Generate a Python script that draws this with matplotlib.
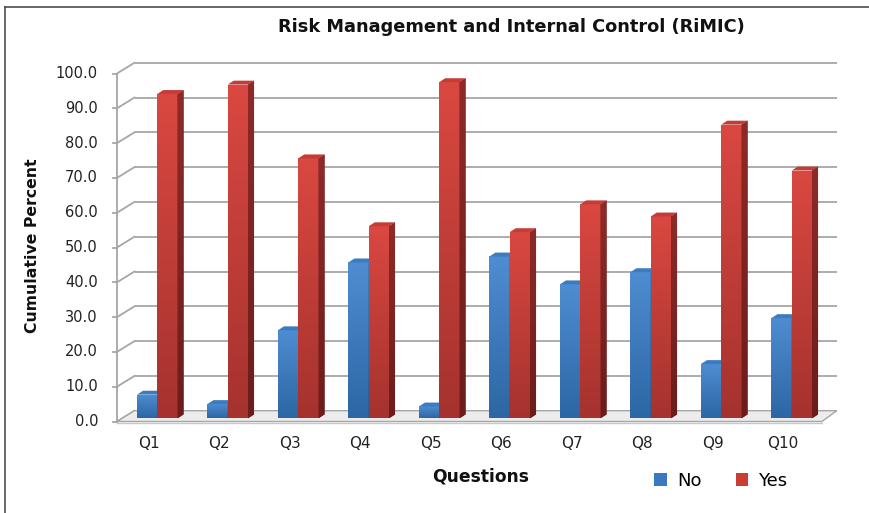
import numpy as np
import matplotlib
matplotlib.use("Agg")
import matplotlib.pyplot as plt
from matplotlib.patches import Polygon, Patch
from matplotlib.colors import LinearSegmentedColormap
from matplotlib.lines import Line2D

# ---- data -------------------------------------------------------------
questions = ["Q1", "Q2", "Q3", "Q4", "Q5", "Q6", "Q7", "Q8", "Q9", "Q10"]
no_pct = [6.8, 4.1, 25.3, 44.8, 3.4, 46.5, 38.5, 42.0, 15.6, 28.8]
yes_pct = [93.2, 95.9, 74.7, 55.2, 96.6, 53.5, 61.5, 58.0, 84.4, 71.2]
series_names = ["No", "Yes"]
y_ticks = np.arange(0, 101, 10)

# ---- figure / axes ----------------------------------------------------
W, H = 870, 513
fig = plt.figure(figsize=(W / 100, H / 100), dpi=100)
fig.patch.set_facecolor("white")

# plane in which the columns stand (pixel geometry)
AX_L, AX_BASE, AX_W, AX_H = 122, 418.3, 705, 348
ax = fig.add_axes([AX_L / W, (H - AX_BASE) / H, AX_W / W, AX_H / H])
ax.set_xlim(-0.5, 9.5)
ax.set_ylim(0, 100)
ax.axis("off")

ux = AX_W / 10.0   # pixels per category
uy = AX_H / 100.0  # pixels per percent


def px(dx, dy):
    """Pixel offset -> data offset."""
    return dx / ux, dy / uy


FRONT = px(-5.0, -3.2)   # front edge of the floor / value axis
BACK = px(12.5, 7.6)     # back wall
DEPTH = px(6.0, 3.9)     # depth of a single column
BACK_RIGHT = 9.46        # back wall is slightly narrower (perspective)

GRID = "#a6a6a6"

# ---- back wall gridlines ---------------------------------------------
for v in y_ticks:
    ax.plot([-0.5 + BACK[0], BACK_RIGHT + BACK[0]], [v + BACK[1]] * 2,
            color=GRID, lw=1.3, clip_on=False, zorder=1, solid_capstyle="butt")

# ---- side wall: value axis, ticks and diagonals -----------------------
x_front = -0.5 + FRONT[0]
ax.plot([x_front, x_front], [0 + FRONT[1], 100 + FRONT[1]],
        color=GRID, lw=1.3, clip_on=False, zorder=2)
tick_len = 4 / ux
for v in y_ticks:
    ax.plot([x_front, -0.5 + BACK[0]], [v + FRONT[1], v + BACK[1]],
            color=GRID, lw=1.3, clip_on=False, zorder=2)
    ax.plot([x_front - tick_len, x_front], [v + FRONT[1]] * 2,
            color=GRID, lw=1.3, clip_on=False, zorder=2)
    ax.text(x_front - 19 / ux, v + FRONT[1], f"{v:.1f}", ha="right",
            va="center", fontsize=10.5, color="#222222",
            family="DejaVu Sans")

# ---- floor -------------------------------------------------------------
floor = Polygon([(x_front, FRONT[1]), (9.5 + FRONT[0], FRONT[1]),
                 (BACK_RIGHT + BACK[0], BACK[1]), (-0.5 + BACK[0], BACK[1])],
                closed=True, facecolor="#ececec", edgecolor=GRID, lw=1.0,
                clip_on=False, zorder=3)
ax.add_patch(floor)
ax.plot([x_front, 9.5 + FRONT[0]], [FRONT[1] - 0.45] * 2, color="#c8c8c8",
        lw=1.0, clip_on=False, zorder=3)


# ---- 3-D columns -------------------------------------------------------
def shade(patch, c_top, c_bot, y_lo, y_hi, x_lo, x_hi, z):
    cmap = LinearSegmentedColormap.from_list("shade", [c_bot, c_top])
    grad = np.linspace(0, 1, 256).reshape(-1, 1)
    im = ax.imshow(grad, cmap=cmap, aspect="auto", origin="lower",
                   extent=[x_lo, x_hi, y_lo, y_hi], zorder=z,
                   interpolation="bilinear")
    im.set_clip_path(patch)


styles = {
    "No": dict(front=("#4f8dd2", "#2c66a4"), side=("#2b5f98", "#1e4a7c"),
               top="#3c7bbf"),
    "Yes": dict(front=("#da4841", "#a5322e"), side=("#8e2b28", "#6b1d1b"),
                top="#c53b35"),
}

bar_w = 20.3 / ux
x = np.arange(len(questions))
values = {"No": no_pct, "Yes": yes_pct}
dx, dy = DEPTH

for s, name in enumerate(series_names):
    st = styles[name]
    lefts = x - bar_w + s * bar_w
    bars = ax.bar(lefts, values[name], width=bar_w, align="edge",
                  color=st["front"][1], edgecolor="none", label=name)
    for i, (bar, v) in enumerate(zip(bars, values[name])):
        z = 10 + i * 10 + s * 5
        bar.set_zorder(z)
        x0 = bar.get_x()
        x1 = x0 + bar.get_width()
        shade(bar, st["front"][0], st["front"][1], 0, v, x0, x1, z + 0.1)
        side = Polygon([(x1, 0), (x1 + dx, dy), (x1 + dx, v + dy), (x1, v)],
                       closed=True, facecolor=st["side"][1],
                       edgecolor="none", zorder=z + 0.2, clip_on=False)
        ax.add_patch(side)
        shade(side, st["side"][0], st["side"][1], 0, v + dy, x1, x1 + dx,
              z + 0.3)
        top = Polygon([(x0, v), (x1, v), (x1 + dx, v + dy), (x0 + dx, v + dy)],
                      closed=True, facecolor=st["top"], edgecolor="none",
                      zorder=z + 0.4, clip_on=False)
        ax.add_patch(top)

ax.set_xlim(-0.5, 9.5)
ax.set_ylim(0, 100)

# ---- category labels ---------------------------------------------------
for i, q in enumerate(questions):
    ax.text(i + FRONT[0] - 0.05, -(443 - AX_BASE) / uy, q, ha="center",
            va="center", fontsize=11, color="#222222", family="DejaVu Sans")

# ---- titles ------------------------------------------------------------
fig.text(511 / W, 1 - 27 / H, "Risk Management and Internal Control (RiMIC)",
         ha="center", va="center", fontsize=12.8, fontweight="bold",
         color="#111111")
fig.text(33 / W, 1 - 246 / H, "Cumulative Percent", ha="center", va="center",
         rotation=90, fontsize=11.3, fontweight="bold", color="#111111")
fig.text(481 / W, 1 - 477 / H, "Questions", ha="center", va="center",
         fontsize=12.3, fontweight="bold", color="#111111")

# ---- legend ------------------------------------------------------------
handles = [Patch(facecolor="#3a78c0", edgecolor="none"),
           Patch(facecolor="#c93d37", edgecolor="none")]
fig.legend(handles, series_names, loc="center", ncol=2, frameon=False,
           bbox_to_anchor=(721 / W, 1 - 481 / H), fontsize=13,
           handlelength=0.7, handleheight=0.7, handletextpad=0.55,
           columnspacing=1.9)

# ---- outer frame (top and left edges) ---------------------------------
fig.add_artist(Line2D([5 / W, 1.0], [1 - 7 / H] * 2, transform=fig.transFigure,
                      color="#4d4d4d", lw=1.2))
fig.add_artist(Line2D([5 / W] * 2, [0.0, 1 - 7 / H], transform=fig.transFigure,
                      color="#4d4d4d", lw=1.2))

fig.savefig("out.png", dpi=100, facecolor="white")
